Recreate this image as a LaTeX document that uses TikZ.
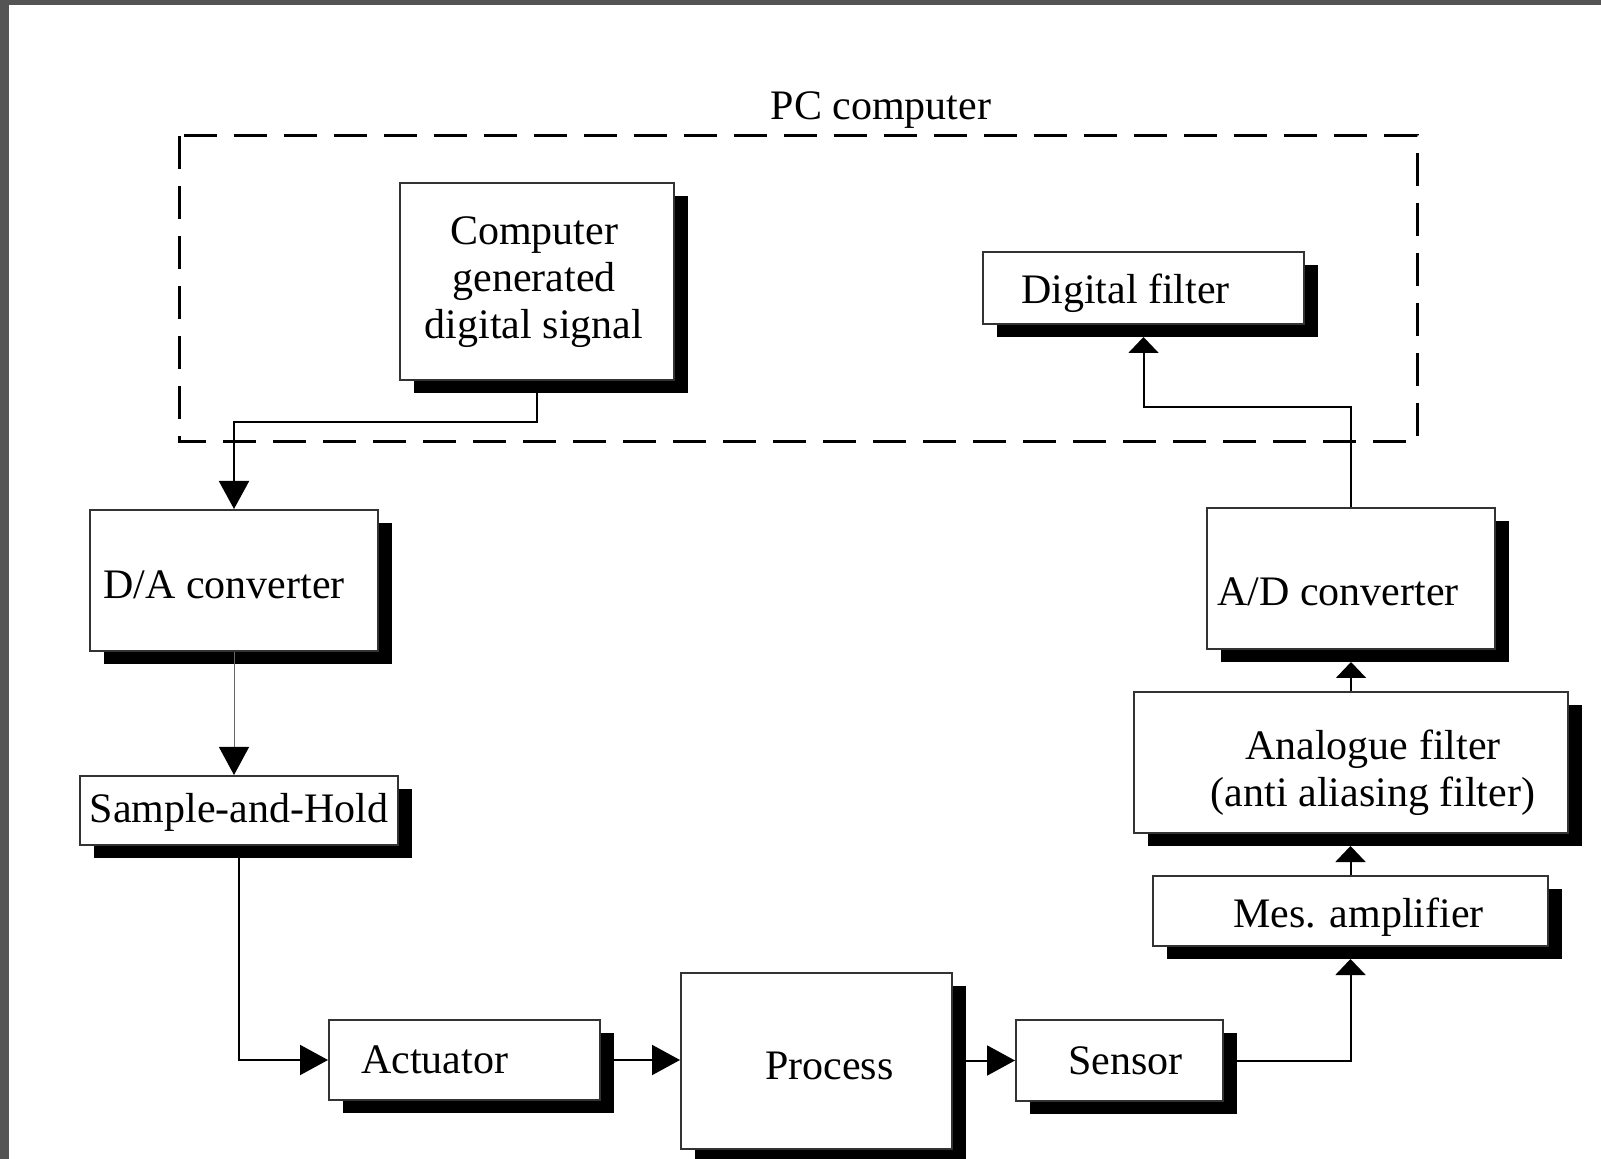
\documentclass[tikz,border=0pt]{standalone}
\usepackage{fontspec}
\setmainfont{Liberation Serif}
\usetikzlibrary{arrows.meta,shadows,calc}

\begin{document}
\begin{tikzpicture}[x=0.5pt, y=-0.5pt,
  font=\fontsize{21}{23.5}\selectfont,
  blk/.style={draw=black!80, line width=1pt, fill=white, inner sep=0pt,
    drop shadow={shadow xshift=7pt, shadow yshift=-6.5pt, fill=black, opacity=1}},
  conn/.style={line width=1pt, -{Triangle[length=14pt,width=15pt,black]}},
  up/.style={line width=1pt, -{Triangle[length=8pt,width=15pt]}, shorten >=6pt}]
  \useasboundingbox (0,0) rectangle (1601,1159);

  % Frame of the screenshot
  \fill[black!67] (0,0) rectangle (1601,5);
  \fill[black!67] (0,0) rectangle (9,1159);

  % PC computer boundary
  \draw[line width=1.5pt, dash pattern=on 16.5pt off 8.5pt] (179,136) rectangle (1417,442);
  \node (pclbl) at (881,110) {PC computer};

  % Blocks inside the PC
  \node[blk, minimum width=137pt, minimum height=98.5pt,
    label={[align=center, xshift=-1.5pt, yshift=-0.5pt]center:Computer\\generated\\digital signal}] (cgen) at (537,281.5) {};
  \node[blk, minimum width=160.5pt, minimum height=36pt,
    label={[xshift=-9pt, yshift=-2.5pt]center:Digital filter}] (dfilt) at (1143.5,288) {};

  % Output side
  \node[blk, minimum width=144pt, minimum height=70.5pt,
    label={[xshift=-5pt, yshift=-2pt]center:D/A converter}] (dac) at (234,580.5) {};
  \node[blk, minimum width=159pt, minimum height=34.5pt,
    label={[yshift=-1pt]center:Sample-and-Hold}] (snh) at (239,810.5) {};
  \node[blk, minimum width=135.5pt, minimum height=40pt,
    label={[xshift=-15pt]center:Actuator}] (act) at (464.5,1060) {};

  % Process
  \node[blk, minimum width=135.5pt, minimum height=88pt,
    label={[xshift=6.5pt, yshift=-2.5pt]center:Process}] (proc) at (816.5,1061) {};

  % Measurement side
  \node[blk, minimum width=103.5pt, minimum height=40.5pt,
    label={[xshift=3pt]center:Sensor}] (sens) at (1119.5,1060.5) {};
  \node[blk, minimum width=197.5pt, minimum height=35pt,
    label={[xshift=4pt, yshift=-3pt]center:Mes. amplifier}] (amp) at (1350.5,911) {};
  \node[blk, minimum width=217pt, minimum height=70.5pt,
    label={[align=center, xshift=11pt, yshift=-5pt]center:Analogue filter\\(anti aliasing filter)}] (afilt) at (1351,762.5) {};
  \node[blk, minimum width=144pt, minimum height=70.5pt,
    label={[xshift=-6.5pt, yshift=-6.5pt]center:A/D converter}] (adc) at (1351,578.5) {};

  % Signal path
  \draw[conn] (cgen.south) -- ++(0,41) -| (dac.north);
  \draw[conn, line width=0.5pt, black!60] (dac.south) -- (dac.south |- snh.north);
  \draw[conn] (snh.south) |- (act.west);
  \draw[conn] (act.east) -- (act.east -| proc.west);
  \draw[conn] (proc.east |- sens.west) -- (sens.west);
  \draw[up] (sens.east) -| (amp.south);
  \draw[up] (amp.north) -- (amp.north |- afilt.south);
  \draw[up] (afilt.north) -- (afilt.north |- adc.south);
  \draw[up] (adc.north) -- ++(0,-100) -| (dfilt.south);
\end{tikzpicture}
\end{document}
